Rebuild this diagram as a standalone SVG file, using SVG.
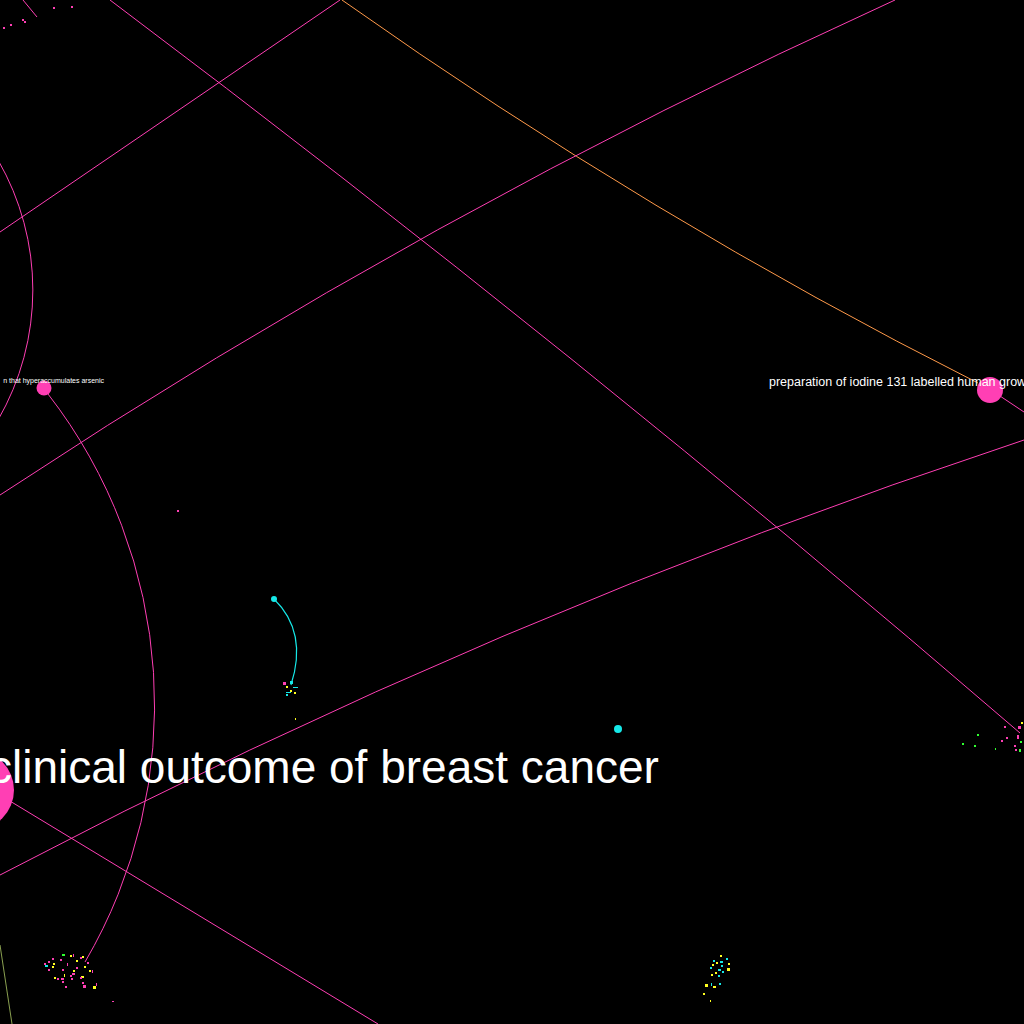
<svg xmlns="http://www.w3.org/2000/svg" width="1024" height="1024" viewBox="0 0 1024 1024">
<style>
.e{fill:none;stroke:#ff3fb4;stroke-width:1}
.eo{fill:none;stroke:#ff9a4a;stroke-width:1}
.ec{fill:none;stroke:#16e8e8;stroke-width:1.2}
.np{fill:#ff3fb4}
.nc{fill:#16e8e8}
.lbl{fill:#ffffff;font-family:"Liberation Sans",Arial,sans-serif}
.p{fill:#ff3fb4}.y{fill:#ffff20}.c{fill:#16e8e8}.g{fill:#30ff30}
</style>
<rect width="1024" height="1024" fill="#000"/>
<g id="connectors">
<path class="e" d="M -2,160 A 260 260 0 0 1 -2,420"/>
<path class="e" d="M 48,394 A 508 508 0 0 1 85,962"/>
<path class="e" d="M 110,0 Q 577,351 1020,733"/>
<path class="e" d="M 340,0 L 0,232"/>
<path class="eo" d="M 342,0 Q 652,219 978,383"/>
<path class="e" d="M 1000,396 L 1024,412" stroke-width="1.5"/>
<path class="e" d="M 895,0 Q 428,212 0,495"/>
<path class="e" d="M 1024,440 Q 494,615 0,875"/>
<path class="e" d="M 0,795 L 378,1024" stroke-width="1.8"/>
<path fill="none" stroke="#8aa050" d="M 0,945 L 12,1024"/>
<path class="ec" d="M 274,599 Q 308,632 291,685"/>
<path class="e" d="M 23,0 L 37,17"/>
</g>
<g id="node-breast-cancer">
<circle class="np" cx="-26" cy="790" r="40"/>
<text class="lbl" x="-11" y="783" font-size="46">clinical outcome of breast cancer</text>
</g>
<g id="node-iodine">
<circle class="np" cx="990" cy="390" r="13"/>
<text class="lbl" x="769" y="386" font-size="12.5">preparation of iodine 131 labelled human grow</text>
</g>
<g id="node-arsenic">
<circle class="np" cx="44" cy="388" r="7.5"/>
<text class="lbl" x="104" y="383" font-size="7" text-anchor="end">n that hyperaccumulates arsenic</text>
</g>
<g id="node-cyan-1"><circle class="nc" cx="274" cy="599" r="3"/></g>
<g id="node-cyan-2"><circle class="nc" cx="618" cy="729" r="4"/></g>
<g id="node-small-1"><rect class="p" x="177" y="510" width="2" height="2"/></g>
<g id="cluster-topleft">
<rect class="p" x="3" y="27" width="2" height="2"/><rect class="p" x="10" y="24" width="2" height="2"/>
<rect class="p" x="22" y="19" width="2" height="2"/><rect class="p" x="24" y="21" width="2" height="2"/>
<rect class="p" x="53" y="7" width="2" height="2"/><rect class="p" x="71" y="6" width="2" height="2"/>
</g>
<g id="cluster-center">
<rect class="p" x="283" y="682" width="3" height="3"/><rect class="c" x="290" y="681" width="3" height="3"/>
<rect class="c" x="293" y="687" width="5" height="1"/><rect class="y" x="286" y="686" width="2" height="2"/>
<rect class="y" x="290" y="690" width="2" height="2"/><rect class="c" x="286" y="692" width="5" height="1"/>
<rect class="y" x="294" y="692" width="2" height="2"/><rect class="c" x="286" y="694" width="2" height="2"/>
<rect class="y" x="295" y="718" width="1" height="2"/>
</g>
<g id="cluster-bottomleft">
<rect class="g" x="62" y="954" width="3" height="2"/><rect class="y" x="70" y="955" width="2" height="2"/>
<rect class="p" x="73" y="954" width="1" height="3"/><rect class="p" x="80" y="957" width="2" height="2"/>
<rect class="y" x="82" y="956" width="2" height="2"/><rect class="p" x="52" y="958" width="2" height="2"/>
<rect class="p" x="48" y="961" width="2" height="2"/><rect class="p" x="60" y="959" width="2" height="2"/>
<rect class="y" x="76" y="960" width="2" height="2"/><rect class="p" x="87" y="962" width="2" height="2"/>
<rect class="p" x="44" y="963" width="2" height="2"/><rect class="c" x="45" y="965" width="3" height="2"/>
<rect class="y" x="53" y="963" width="2" height="2"/><rect class="p" x="67" y="963" width="1" height="3"/>
<rect class="y" x="52" y="966" width="2" height="2"/><rect class="p" x="48" y="969" width="2" height="2"/>
<rect class="p" x="62" y="969" width="2" height="2"/><rect class="p" x="76" y="967" width="2" height="2"/>
<rect class="y" x="84" y="966" width="2" height="2"/><rect class="y" x="89" y="970" width="2" height="2"/>
<rect class="y" x="73" y="970" width="2" height="2"/><rect class="p" x="92" y="970" width="1" height="3"/>
<rect class="p" x="72" y="973" width="3" height="2"/><rect class="y" x="64" y="974" width="1" height="3"/>
<rect class="p" x="70" y="975" width="2" height="2"/><rect class="y" x="81" y="976" width="3" height="2"/>
<rect class="p" x="80" y="977" width="2" height="2"/><rect class="y" x="54" y="977" width="2" height="2"/>
<rect class="p" x="57" y="978" width="2" height="2"/><rect class="p" x="61" y="978" width="3" height="2"/>
<rect class="p" x="71" y="978" width="2" height="2"/><rect class="p" x="62" y="981" width="2" height="2"/>
<rect class="p" x="82" y="982" width="2" height="2"/><rect class="p" x="96" y="983" width="1" height="3"/>
<rect class="p" x="83" y="985" width="3" height="3"/><rect class="y" x="93" y="986" width="3" height="3"/>
<rect class="p" x="65" y="986" width="2" height="2"/><rect class="p" x="112" y="1001" width="2" height="1"/>
</g>
<g id="cluster-bottom">
<rect class="y" x="720" y="955" width="2" height="2"/><rect class="c" x="726" y="958" width="2" height="2"/>
<rect class="c" x="713" y="960" width="2" height="2"/><rect class="y" x="716" y="962" width="2" height="2"/>
<rect class="c" x="720" y="961" width="3" height="2"/><rect class="y" x="712" y="964" width="2" height="2"/>
<rect class="c" x="721" y="965" width="2" height="2"/><rect class="y" x="728" y="963" width="2" height="2"/>
<rect class="c" x="710" y="967" width="2" height="2"/><rect class="y" x="727" y="968" width="3" height="3"/>
<rect class="c" x="718" y="969" width="3" height="2"/><rect class="y" x="715" y="972" width="2" height="2"/>
<rect class="c" x="722" y="971" width="2" height="2"/><rect class="y" x="711" y="974" width="2" height="2"/>
<rect class="c" x="718" y="975" width="2" height="2"/><rect class="y" x="705" y="984" width="3" height="3"/>
<rect class="c" x="711" y="983" width="1" height="3"/><rect class="y" x="713" y="986" width="3" height="2"/>
<rect class="c" x="719" y="983" width="2" height="2"/><rect class="y" x="703" y="993" width="2" height="2"/>
<rect class="y" x="710" y="1000" width="1" height="2"/>
</g>
<g id="cluster-right">
<rect class="g" x="977" y="734" width="2" height="2"/><rect class="g" x="962" y="743" width="2" height="2"/>
<rect class="g" x="974" y="745" width="2" height="2"/><rect class="g" x="995" y="748" width="1" height="2"/>
<rect class="p" x="1004" y="726" width="2" height="2"/><rect class="p" x="1006" y="737" width="2" height="2"/>
<rect class="p" x="1001" y="740" width="2" height="2"/><rect class="p" x="1018" y="726" width="3" height="3"/>
<rect class="y" x="1021" y="722" width="2" height="2"/><rect class="p" x="1017" y="735" width="2" height="4"/>
<rect class="p" x="1014" y="745" width="2" height="2"/><rect class="p" x="1015" y="749" width="2" height="2"/>
<rect class="g" x="1019" y="749" width="2" height="3"/><rect class="g" x="1020" y="741" width="2" height="2"/>
</g>
</svg>
